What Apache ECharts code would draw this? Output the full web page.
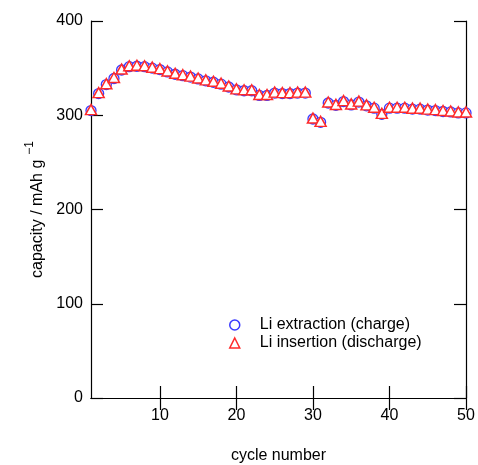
<!DOCTYPE html>
<html>
<head>
<meta charset="utf-8">
<style>
  html, body { margin: 0; padding: 0; background: #fff; }
  #chart { width: 478px; height: 465px; }
</style>
<script src="https://cdn.jsdelivr.net/npm/echarts@6/dist/echarts.min.js"></script>
</head>
<body>
<div id="chart"></div>
<script>
// Cycle-life data: capacity (mAh/g) per cycle
const cycles = [
  1, 2, 3, 4, 5, 6, 7, 8, 9, 10,
  11, 12, 13, 14, 15, 16, 17, 18, 19, 20,
  21, 22, 23, 24, 25, 26, 27, 28, 29, 30,
  31, 32, 33, 34, 35, 36, 37, 38, 39, 40,
  41, 42, 43, 44, 45, 46, 47, 48, 49, 50
];
const chargeCapacity = [
  305, 323, 332.5, 339, 348, 351.5, 352, 351.5, 350, 348.5,
  346, 343.5, 342, 340.5, 338.5, 336.5, 335, 333, 330, 327,
  326, 326, 321, 321, 323.5, 323, 323, 323.5, 323.5, 296,
  292.5, 313, 310.5, 314.5, 311, 314, 310, 307.5, 301, 307.5,
  307.5, 307.5, 306.5, 306.5, 305.5, 305, 304, 303.5, 302.5, 302.5
];
const dischargeCapacity = [
  306, 324, 333.5, 340, 349, 352.5, 353, 352.5, 351, 349.5,
  347, 344.5, 343, 341.5, 339.5, 337.5, 336, 334, 331, 328,
  327, 327, 322, 322, 324.5, 324, 324, 324.5, 324.5, 297,
  293.5, 314, 311.5, 315.5, 312, 315, 311, 308.5, 302, 308.5,
  308.5, 308.5, 307.5, 307.5, 306.5, 306, 305, 304.5, 303.5, 303.5
];
const xTicks = [10, 20, 30, 40, 50];
const seriesNames = ['Li extraction (charge)', 'Li insertion (discharge)'];

const FONT = 'Liberation Sans, Arial, sans-serif';
const BLUE = '#3a3aff';
const RED = '#ff2a2a';

const pairs = (ys) => cycles.map((c, i) => [c, ys[i]]);

const axisLine = { show: true, lineStyle: { color: '#000', width: 1.2 } };
const tick = { show: true, inside: true, length: 12, lineStyle: { color: '#000', width: 1.2 } };
const labelFont = { fontFamily: FONT, fontSize: 16, color: '#000' };

const chart = echarts.init(document.getElementById('chart'), null, { renderer: 'canvas' });
chart.setOption({
  animation: false,
  backgroundColor: '#fff',
  textStyle: { fontFamily: FONT },
  grid: { left: 91, right: 12, top: 21, bottom: 67, containLabel: false, outerBoundsMode: 'none' },
  legend: {
    orient: 'vertical',
    left: 224,
    top: 312,
    itemWidth: 10,
    itemHeight: 10,
    itemGap: 2,
    textStyle: { fontFamily: FONT, fontSize: 16, lineHeight: 16, color: '#000', padding: [0, 0, 0, 15] },
    data: [
      { name: seriesNames[0], icon: 'circle', itemStyle: { color: '#fff', borderColor: BLUE, borderWidth: 1.5 } },
      { name: seriesNames[1], icon: 'triangle', itemStyle: { color: '#fff', borderColor: RED, borderWidth: 1.5 } }
    ]
  },
  xAxis: [
    {
      type: 'value', position: 'bottom', min: 1, max: 50,
      name: 'cycle number', nameLocation: 'middle', nameGap: 50,
      nameTextStyle: labelFont,
      axisLine, axisTick: Object.assign({ customValues: xTicks }, tick),
      axisLabel: Object.assign({ customValues: xTicks, margin: 10 }, labelFont),
      splitLine: { show: false }
    },
    {
      type: 'value', position: 'top', min: 1, max: 50,
      axisLine, axisTick: Object.assign({ customValues: xTicks }, tick),
      axisLabel: { show: false }, splitLine: { show: false }
    }
  ],
  yAxis: [
    {
      type: 'value', position: 'left', min: 0, max: 400, interval: 100,
      name: '{t|capacity / mAh g}{s|−1}', nameLocation: 'middle', nameGap: 44, nameRotate: 90,
      nameTextStyle: {
        rich: {
          t: { fontFamily: FONT, fontSize: 16, color: '#000', lineHeight: 22, verticalAlign: 'bottom' },
          s: { fontFamily: FONT, fontSize: 12, color: '#000', verticalAlign: 'top', padding: [0, 0, 0, 5] }
        }
      },
      axisLine, axisTick: tick,
      axisLabel: Object.assign({ margin: 8 }, labelFont),
      splitLine: { show: false }
    },
    {
      type: 'value', position: 'right', min: 0, max: 400, interval: 100,
      axisLine, axisTick: tick, axisLabel: { show: false }, splitLine: { show: false }
    }
  ],
  series: [
    {
      name: seriesNames[0], type: 'scatter', xAxisIndex: 0, yAxisIndex: 0,
      symbol: 'circle', symbolSize: 10,
      itemStyle: { color: '#fff', borderColor: BLUE, borderWidth: 1.3, opacity: 1 },
      data: pairs(chargeCapacity), z: 2
    },
    {
      name: seriesNames[1], type: 'scatter', xAxisIndex: 0, yAxisIndex: 0,
      symbol: 'triangle', symbolSize: [11, 10],
      itemStyle: { color: '#fff', borderColor: RED, borderWidth: 1.5, opacity: 1 },
      data: pairs(dischargeCapacity), z: 3
    }
  ]
});
</script>
</body>
</html>
